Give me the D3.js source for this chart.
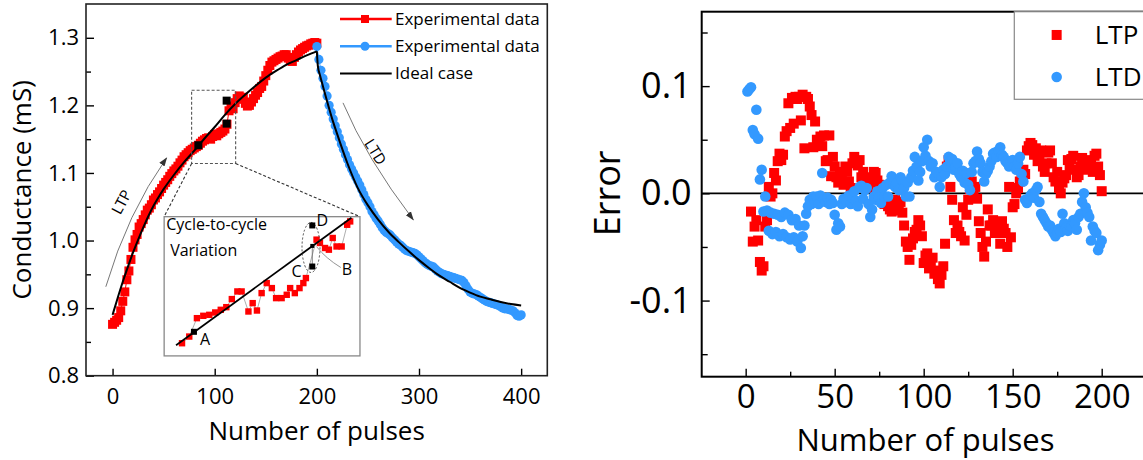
<!DOCTYPE html>
<html><head><meta charset="utf-8">
<script src="https://cdn.jsdelivr.net/npm/d3@7"></script>
<style>body{margin:0;background:#fff}svg{display:block}</style>
</head><body><svg id="c" width="1143" height="460"></svg>
<script>
// ---------------- DATA ----------------
// Left panel: conductance vs pulse number
const ltpExpPulse = d3.range(0, 201, 2);
const ltpExpG = [0.876,0.879,0.882,0.886,0.896,0.910,0.924,0.942,0.955,0.972,
0.990,1.001,1.009,1.020,1.025,1.031,1.038,1.045,1.048,1.053,
1.060,1.063,1.068,1.072,1.077,1.082,1.086,1.090,1.095,1.099,
1.103,1.106,1.110,1.115,1.119,1.124,1.127,1.130,1.133,1.135,
1.137,1.139,1.141,1.144,1.147,1.149,1.151,1.152,1.150,1.154,
1.157,1.155,1.158,1.160,1.162,1.165,1.172,1.192,1.199,1.195,
1.204,1.210,1.214,1.209,1.212,1.203,1.199,1.200,1.205,1.210,
1.215,1.219,1.225,1.228,1.236,1.244,1.252,1.259,1.264,1.266,
1.268,1.270,1.272,1.273,1.275,1.275,1.270,1.266,1.265,1.271,
1.275,1.279,1.282,1.284,1.286,1.288,1.289,1.291,1.292,1.293,1.292];
const ltdExpPulse = d3.range(200, 401, 2);
const ltdExpG = [1.287,1.268,1.252,1.240,1.228,1.214,1.200,1.190,1.180,1.170,
1.161,1.152,1.143,1.135,1.127,1.120,1.112,1.106,1.100,1.094,
1.088,1.082,1.075,1.068,1.061,1.056,1.050,1.043,1.038,1.033,
1.029,1.024,1.019,1.015,1.012,1.010,1.008,1.004,1.001,0.998,
0.995,0.993,0.990,0.987,0.985,0.984,0.983,0.982,0.981,0.979,
0.976,0.973,0.970,0.967,0.965,0.963,0.962,0.961,0.958,0.955,
0.953,0.951,0.950,0.949,0.948,0.947,0.946,0.945,0.944,0.943,
0.942,0.941,0.938,0.933,0.928,0.924,0.922,0.921,0.920,0.918,
0.916,0.914,0.912,0.910,0.909,0.908,0.907,0.906,0.905,0.904,
0.902,0.900,0.899,0.899,0.898,0.897,0.896,0.893,0.889,0.888,0.890];
const ltpIdealPulse = [0,5,10,15,20,25,30,35,40,45,50,60,70,80,90,100,110,120,130,140,150,160,170,180,190,200];
const ltpIdealG = [0.890,0.915,0.939,0.961,0.982,1.001,1.019,1.036,1.051,1.064,1.076,1.097,1.116,1.133,1.151,1.168,1.186,1.202,1.216,1.229,1.241,1.251,1.260,1.267,1.274,1.280];
const ltdIdealPulse = [200,201,203,206,210,215,220,230,240,250,260,270,280,290,300,310,320,330,340,350,360,370,380,390,400];
const ltdIdealG = [1.280,1.258,1.245,1.228,1.206,1.180,1.157,1.114,1.078,1.052,1.031,1.013,0.998,0.984,0.971,0.959,0.948,0.939,0.930,0.923,0.917,0.913,0.909,0.906,0.904];
const keyPulse = [84, 111.7, 111.7];           // A, C, D in main panel
const keyG = [1.141, 1.173, 1.207];
const zoomBoxPulse = [77.4, 120.5];
const zoomBoxG = [1.114, 1.2224];

// Inset (cycle-to-cycle variation)
const insetPulse = [81.2,82.9,84.7,86.2,87.6,89.0,90.3,91.6,92.9,94.2,95.2,96.8,97.8,98.8,99.9,101.1,102.3,103.3,104.6,105.8,106.6,107.7,108.8,109.7,110.3,112.8,113.6,114.8,115.7,116.6,117.5,118.7,120.0,120.7];
const insetG = [1.1291,1.1339,1.1471,1.1488,1.1495,1.1512,1.1531,1.1550,1.1608,1.1663,1.1663,1.1519,1.1579,1.1526,1.1651,1.1723,1.1687,1.1615,1.1615,1.1639,1.1687,1.1651,1.1687,1.1723,1.1759,1.2035,1.2011,1.1975,1.1963,1.2047,1.1986,1.1986,1.2142,1.2166];
const insetIdealPulse = [79.8, 121.0];
const insetIdealG = [1.1277, 1.2193];
const insetKeyLabels = ["A","C","D","B"];
const insetKeyPulse = [84.0, 111.8, 111.8, 111.8];
const insetKeyG = [1.1373, 1.1842, 1.2137, 1.1990];

// Right panel: error vs pulse number
const ltpErrPulse = d3.range(3, 201);
const ltpErr = [-0.017,-0.045,-0.031,-0.025,-0.044,-0.064,-0.072,-0.068,-0.031,-0.025,
0.006,-0.003,0.000,0.019,0.012,0.030,0.037,0.031,0.036,0.053,
0.058,0.084,0.061,0.089,0.065,0.090,0.088,0.090,0.068,0.092,
0.042,0.090,0.088,0.081,0.073,0.043,0.067,0.050,0.046,0.053,
0.044,0.054,0.030,0.031,0.054,0.016,0.034,0.025,0.015,0.010,
0.020,0.017,0.008,0.025,0.020,0.011,0.005,0.028,0.034,0.030,
0.026,0.031,0.015,0.020,0.012,0.008,0.005,0.010,0.015,0.020,
0.019,0.012,0.008,0.002,-0.004,-0.010,-0.006,-0.012,-0.015,-0.017,
-0.010,-0.006,-0.016,-0.012,-0.008,-0.018,-0.030,-0.045,-0.050,-0.062,
-0.048,-0.042,-0.036,-0.034,-0.025,-0.030,-0.040,-0.065,-0.058,-0.056,
-0.070,-0.068,-0.060,-0.075,-0.072,-0.080,-0.084,-0.076,-0.068,-0.047,
0.025,0.031,0.006,-0.006,-0.025,-0.037,-0.030,-0.036,-0.040,-0.013,
-0.044,-0.020,-0.006,0.004,0.011,0.003,0.006,-0.005,-0.026,-0.037,
-0.050,-0.059,-0.045,-0.015,-0.030,-0.030,-0.025,-0.037,-0.037,-0.028,
-0.047,-0.026,-0.033,-0.037,-0.050,0.006,-0.041,-0.013,-0.010,0.000,
0.005,0.011,0.015,0.022,0.018,0.040,0.044,0.047,0.045,0.036,
0.042,0.030,0.034,0.040,0.025,0.020,0.028,0.038,0.040,0.028,
0.015,0.011,0.020,0.005,0.000,0.010,0.014,0.017,0.031,0.024,
0.032,0.035,0.022,0.015,0.017,0.025,0.033,0.028,0.031,0.022,
0.030,0.028,0.020,0.035,0.037,0.025,0.017,0.002];
const ltdErrPulse = d3.range(1, 201);
const ltdErr = [0.095,0.097,0.099,0.059,0.055,0.078,0.051,0.013,0.022,-0.017,
-0.003,-0.016,-0.035,-0.018,-0.038,-0.019,-0.036,-0.020,-0.040,-0.022,
-0.038,-0.018,-0.041,-0.020,-0.043,-0.025,-0.041,-0.024,-0.045,-0.030,
-0.051,-0.040,-0.030,-0.019,-0.012,-0.006,-0.010,-0.003,-0.008,-0.003,
-0.010,-0.002,0.019,-0.005,-0.008,-0.004,-0.010,-0.006,-0.009,-0.020,
-0.034,-0.028,-0.031,-0.010,-0.005,-0.006,-0.008,-0.002,-0.010,-0.004,
0.002,-0.007,-0.012,0.006,0.007,-0.005,0.003,0.005,-0.010,-0.022,
-0.015,-0.003,-0.006,0.002,-0.004,-0.009,0.005,-0.003,0.008,-0.003,
0.010,0.016,0.008,0.006,0.010,0.003,0.015,0.012,0.005,-0.003,
0.010,-0.003,0.015,0.021,0.034,0.025,0.012,0.020,0.030,0.043,
0.035,0.050,0.030,0.025,0.028,0.015,0.020,0.019,0.006,0.015,
0.022,0.018,0.025,0.034,0.030,0.032,0.022,0.025,0.028,0.018,
0.015,0.021,0.010,0.019,0.008,0.003,0.020,0.028,0.030,0.039,
0.032,0.028,0.020,0.011,0.018,0.021,0.025,0.030,0.037,0.038,
0.034,0.040,0.043,0.036,0.034,0.030,0.028,0.025,0.030,0.031,
0.025,0.022,0.028,0.034,0.018,0.011,-0.006,-0.009,-0.005,-0.002,
0.000,-0.004,0.003,0.006,-0.008,-0.019,-0.022,-0.025,-0.028,-0.031,
-0.030,-0.034,-0.037,-0.040,-0.037,-0.033,-0.036,-0.019,-0.028,-0.032,
-0.035,-0.030,-0.031,-0.025,-0.028,-0.034,-0.022,-0.019,-0.008,0.000,
-0.013,-0.018,-0.022,-0.044,-0.031,-0.035,-0.037,-0.053,-0.048,-0.044];

// Ticks / labels
const leftYTicks = [0.8,0.9,1.0,1.1,1.2,1.3];
const leftYMinor = [0.85,0.95,1.05,1.15,1.25];
const leftXTicks = [0,100,200,300,400];
const rightYTicks = [-0.1,0,0.1];
const rightYMinor = [-0.15,-0.05,0.05,0.15];
const rightXTicks = [0,50,100,150,200];
const rightXMinor = [25,75,125,175];
const legendLeft = ["Experimental data","Experimental data","Ideal case"];
const legendRight = ["LTP","LTD"];

// ---------------- DRAW ----------------
const RED = "#ff0000", BLUE = "#3399ff";
const FONT = '"Open Sans", sans-serif';
const svg = d3.select("#c");
const defs = svg.append("defs");
defs.append("marker").attr("id","ah").attr("viewBox","0 0 10 10").attr("refX",9).attr("refY",5)
  .attr("markerWidth",9).attr("markerHeight",9).attr("markerUnits","userSpaceOnUse").attr("orient","auto")
  .append("path").attr("d","M0,1.5 L10,5 L0,8.5 Z").attr("fill","#333");

function styleAxis(g, size) {
  g.select(".domain").remove();
  g.attr("font-family", FONT);
  g.selectAll(".tick line").attr("stroke","#000").attr("stroke-width",1.4);
  g.selectAll(".tick text").attr("font-family",FONT).attr("font-size",size).attr("fill","#000");
}
const fmt1 = d => d.toFixed(1);

// ===== LEFT PANEL =====
const xL = d3.scaleLinear().domain([-26, 425.6]).range([86, 547.3]);
const yL = d3.scaleLinear().domain([0.8, 1.35]).range([375.7, 4]);
const L = svg.append("g");

const gy = L.append("g").attr("transform",`translate(${xL.range()[0]},0)`)
  .call(d3.axisLeft(yL).tickValues(leftYTicks).tickSize(-8).tickPadding(7).tickFormat(fmt1));
styleAxis(gy, 22);
const gym = L.append("g").attr("transform",`translate(${xL.range()[0]},0)`)
  .call(d3.axisLeft(yL).tickValues(leftYMinor).tickSize(-5).tickFormat(""));
styleAxis(gym, 22);
const gx = L.append("g").attr("transform",`translate(0,${yL.range()[0]})`)
  .call(d3.axisBottom(xL).tickValues(leftXTicks).tickSize(-7).tickPadding(13));
styleAxis(gx, 22);
L.append("rect").attr("x",xL.range()[0]).attr("y",yL.range()[1])
  .attr("width",xL.range()[1]-xL.range()[0]).attr("height",yL.range()[0]-yL.range()[1])
  .attr("fill","none").attr("stroke","#222").attr("stroke-width",1.6);

L.append("text").attr("font-family",FONT).attr("font-size",26).attr("text-anchor","middle")
  .attr("x",(xL.range()[0]+xL.range()[1])/2).attr("y",440).text("Number of pulses");
L.append("text").attr("font-family",FONT).attr("font-size",26).attr("text-anchor","middle")
  .attr("transform",`translate(31,${(yL.range()[0]+yL.range()[1])/2}) rotate(-90)`).text("Conductance (mS)");

const lineL = d3.line().x(d=>xL(d[0])).y(d=>yL(d[1]));
const ltpPts = ltpExpPulse.map((p,i)=>[p, ltpExpG[i]]);
const ltdPts = ltdExpPulse.map((p,i)=>[p, ltdExpG[i]]);
L.append("path").attr("d",lineL(ltpPts)).attr("fill","none").attr("stroke",RED).attr("stroke-width",1);
L.append("g").selectAll("rect").data(ltpPts).join("rect")
  .attr("x",d=>xL(d[0])-4.5).attr("y",d=>yL(d[1])-4.5).attr("width",9).attr("height",9).attr("fill",RED);
L.append("path").attr("d",lineL(ltdPts)).attr("fill","none").attr("stroke",BLUE).attr("stroke-width",1);
L.append("g").selectAll("circle").data(ltdPts).join("circle")
  .attr("cx",d=>xL(d[0])).attr("cy",d=>yL(d[1])).attr("r",4.6).attr("fill",BLUE);

const lineS = d3.line().x(d=>xL(d[0])).y(d=>yL(d[1])).curve(d3.curveMonotoneX);
L.append("path").attr("d",lineS(ltpIdealPulse.map((p,i)=>[p,ltpIdealG[i]])))
  .attr("fill","none").attr("stroke","#000").attr("stroke-width",2);
L.append("path").attr("d",lineS(ltdIdealPulse.map((p,i)=>[p,ltdIdealG[i]])))
  .attr("fill","none").attr("stroke","#000").attr("stroke-width",2);

L.append("g").selectAll("rect").data(keyPulse.map((p,i)=>[p,keyG[i]])).join("rect")
  .attr("x",d=>xL(d[0])-4).attr("y",d=>yL(d[1])-4).attr("width",8).attr("height",8).attr("fill","#000");

const zx0 = xL(zoomBoxPulse[0]), zx1 = xL(zoomBoxPulse[1]);
const zy0 = yL(zoomBoxG[1]), zy1 = yL(zoomBoxG[0]);
L.append("rect").attr("x",zx0).attr("y",zy0).attr("width",zx1-zx0).attr("height",zy1-zy0)
  .attr("fill","none").attr("stroke","#555").attr("stroke-width",1.1).attr("stroke-dasharray","3,2");

const insetBoxPulse = [50.5, 242.2], insetBoxG = [0.8293, 1.0353];
const ix0 = xL(insetBoxPulse[0]), ix1 = xL(insetBoxPulse[1]);
const iy0 = yL(insetBoxG[1]), iy1 = yL(insetBoxG[0]);
L.append("line").attr("x1",zx0).attr("y1",zy1).attr("x2",ix0).attr("y2",iy0)
  .attr("stroke","#333").attr("stroke-width",1.1).attr("stroke-dasharray","3,2");
L.append("line").attr("x1",zx1).attr("y1",zy1).attr("x2",ix1).attr("y2",iy0)
  .attr("stroke","#333").attr("stroke-width",1.1).attr("stroke-dasharray","3,2");

const ltpArrow = [[-6.6,0.9316],[14.6,1.0406],[52.9,1.1222]];
const ltdArrow = [[225.6,1.2037],[248.1,1.1227],[294.4,1.0308]];
function qpath(a){ return `M${xL(a[0][0])},${yL(a[0][1])} Q${xL(a[1][0])},${yL(a[1][1])} ${xL(a[2][0])},${yL(a[2][1])}`; }
L.append("path").attr("d",qpath(ltpArrow)).attr("fill","none").attr("stroke","#777").attr("stroke-width",1).attr("marker-end","url(#ah)");
L.append("path").attr("d",qpath(ltdArrow)).attr("fill","none").attr("stroke","#777").attr("stroke-width",1).attr("marker-end","url(#ah)");
L.append("text").attr("font-family",FONT).attr("font-size",15).attr("text-anchor","middle").attr("dominant-baseline","central")
  .attr("transform",`translate(${xL(8.1)},${yL(1.0575)}) rotate(-62)`).text("LTP");
L.append("text").attr("font-family",FONT).attr("font-size",15).attr("text-anchor","middle").attr("dominant-baseline","central")
  .attr("transform",`translate(${xL(257.9)},${yL(1.1316)}) rotate(58)`).text("LTD");

const legY0 = 19, legDy = 27.2, legX0 = 340, legX1 = 391.7, legM = 365, legT = 395;
const legColors = [RED, BLUE, "#000"];
legendLeft.forEach((t,i)=>{
  const y = legY0 + i*legDy;
  L.append("line").attr("x1",legX0).attr("x2",legX1).attr("y1",y).attr("y2",y)
    .attr("stroke",legColors[i]).attr("stroke-width",i===2?2:2.5);
  if (i===0) L.append("rect").attr("x",legM-4).attr("y",y-4).attr("width",8).attr("height",8).attr("fill",RED);
  if (i===1) L.append("circle").attr("cx",legM).attr("cy",y).attr("r",4.5).attr("fill",BLUE);
  L.append("text").attr("font-family",FONT).attr("font-size",17).attr("x",legT).attr("y",y).attr("dy","0.35em").text(t);
});

// ===== INSET =====
const xI = d3.scaleLinear().domain([77,123]).range([ix0, ix1]);
const yI = d3.scaleLinear().domain([1.12,1.22]).range([iy1, iy0]);
const I = svg.append("g");
I.append("rect").attr("x",ix0).attr("y",iy0).attr("width",ix1-ix0).attr("height",iy1-iy0)
  .attr("fill","#fff").attr("stroke","#888").attr("stroke-width",1.3);
I.append("text").attr("font-family",FONT).attr("font-size",16).attr("x",ix0+2).attr("y",iy0+13).text("Cycle-to-cycle");
I.append("text").attr("font-family",FONT).attr("font-size",16).attr("x",ix0+6).attr("y",iy0+39).text("Variation");
const insetPts = insetPulse.map((p,i)=>[p, insetG[i]]);
const lineI = d3.line().x(d=>xI(d[0])).y(d=>yI(d[1]));
I.append("path").attr("d",lineI(insetPts)).attr("fill","none").attr("stroke","#999").attr("stroke-width",0.8);
I.append("g").selectAll("rect").data(insetPts).join("rect")
  .attr("x",d=>xI(d[0])-3.2).attr("y",d=>yI(d[1])-3.2).attr("width",6.4).attr("height",6.4).attr("fill",RED);
I.append("path").attr("d",lineI(insetIdealPulse.map((p,i)=>[p,insetIdealG[i]])))
  .attr("fill","none").attr("stroke","#000").attr("stroke-width",1.8);
I.append("line").attr("x1",xI(insetKeyPulse[1])).attr("x2",xI(insetKeyPulse[3]))
  .attr("y1",yI(insetKeyG[1])).attr("y2",yI(insetKeyG[3])).attr("stroke","#666").attr("stroke-width",0.8);
I.append("ellipse").attr("cx",xI(111.5)).attr("cy",yI(1.1979)).attr("rx",9).attr("ry",25)
  .attr("fill","none").attr("stroke","#333").attr("stroke-width",0.9).attr("stroke-dasharray","2,2");
I.append("path").attr("d",`M${xI(118.5)},${yI(1.1835)} Q${xI(115)},${yI(1.1900)} ${xI(112.8)},${yI(1.1985)}`)
  .attr("fill","none").attr("stroke","#888").attr("stroke-width",0.9);
insetKeyLabels.forEach((lab,i)=>{
  const s = i===3 ? 4 : 6;
  I.append("rect").attr("x",xI(insetKeyPulse[i])-s/2).attr("y",yI(insetKeyG[i])-s/2).attr("width",s).attr("height",s).attr("fill","#000");
});
const insetLabelPulse = [85.4, 106.9, 112.8, 118.7];
const insetLabelG = [1.1279, 1.1770, 1.2130, 1.1783];
insetKeyLabels.forEach((lab,i)=>{
  I.append("text").attr("font-family",FONT).attr("font-size",16).attr("x",xI(insetLabelPulse[i])).attr("y",yI(insetLabelG[i])).text(lab);
});

// ===== RIGHT PANEL =====
const xR = d3.scaleLinear().domain([-24.7, 235]).range([701.7, 1164]);
const yR = d3.scaleLinear().domain([-0.171, 0.1694]).range([376.7, 11.7]);
const R = svg.append("g");
const ry = R.append("g").attr("transform",`translate(${xR.range()[0]},0)`)
  .call(d3.axisLeft(yR).tickValues(rightYTicks).tickSize(-8).tickPadding(10).tickFormat(fmt1));
styleAxis(ry, 36);
const rym = R.append("g").attr("transform",`translate(${xR.range()[0]},0)`)
  .call(d3.axisLeft(yR).tickValues(rightYMinor).tickSize(-6).tickFormat(""));
styleAxis(rym, 36);
const rx = R.append("g").attr("transform",`translate(0,${yR.range()[0]})`)
  .call(d3.axisBottom(xR).tickValues(rightXTicks).tickSize(-8).tickPadding(7.5));
styleAxis(rx, 33);
const rxm = R.append("g").attr("transform",`translate(0,${yR.range()[0]})`)
  .call(d3.axisBottom(xR).tickValues(rightXMinor).tickSize(-5).tickFormat(""));
styleAxis(rxm, 33);
R.append("rect").attr("x",xR.range()[0]).attr("y",yR.range()[1])
  .attr("width",xR.range()[1]-xR.range()[0]).attr("height",yR.range()[0]-yR.range()[1])
  .attr("fill","none").attr("stroke","#000").attr("stroke-width",2);
R.append("line").attr("x1",xR.range()[0]).attr("x2",xR.range()[1]).attr("y1",yR(0)).attr("y2",yR(0))
  .attr("stroke","#000").attr("stroke-width",1.8);

R.append("text").attr("font-family",FONT).attr("font-size",31).attr("text-anchor","middle")
  .attr("x",xR(101)).attr("y",450.5).text("Number of pulses");
R.append("text").attr("font-family",FONT).attr("font-size",36).attr("text-anchor","middle").attr("dominant-baseline","central")
  .attr("transform",`translate(606,${yR(0)}) rotate(-90)`).text("Error");

R.append("g").selectAll("rect").data(ltpErrPulse.map((p,i)=>[p,ltpErr[i]])).join("rect")
  .attr("x",d=>xR(d[0])-5).attr("y",d=>yR(d[1])-5).attr("width",10).attr("height",10).attr("fill",RED);
R.append("g").selectAll("circle").data(ltdErrPulse.map((p,i)=>[p,ltdErr[i]])).join("circle")
  .attr("cx",d=>xR(d[0])).attr("cy",d=>yR(d[1])).attr("r",5.3).attr("fill",BLUE);

const lgX = xR(150.9), lgY0 = yR.range()[1], lgY1 = yR(0.0877);
R.append("rect").attr("x",lgX).attr("y",lgY0).attr("width",300).attr("height",lgY1-lgY0)
  .attr("fill","#fff").attr("stroke","#888").attr("stroke-width",1.2);
const lgRows = [yR(0.1477), yR(0.1085)];
R.append("rect").attr("x",xR(174.7)-5).attr("y",lgRows[0]-5).attr("width",10).attr("height",10).attr("fill",RED);
R.append("circle").attr("cx",xR(174.7)).attr("cy",lgRows[1]).attr("r",5.3).attr("fill",BLUE);
legendRight.forEach((t,i)=>{
  R.append("text").attr("font-family",FONT).attr("font-size",26).attr("x",xR(196.1)).attr("y",lgRows[i]).attr("dy","0.36em").text(t);
});
</script></body></html>
